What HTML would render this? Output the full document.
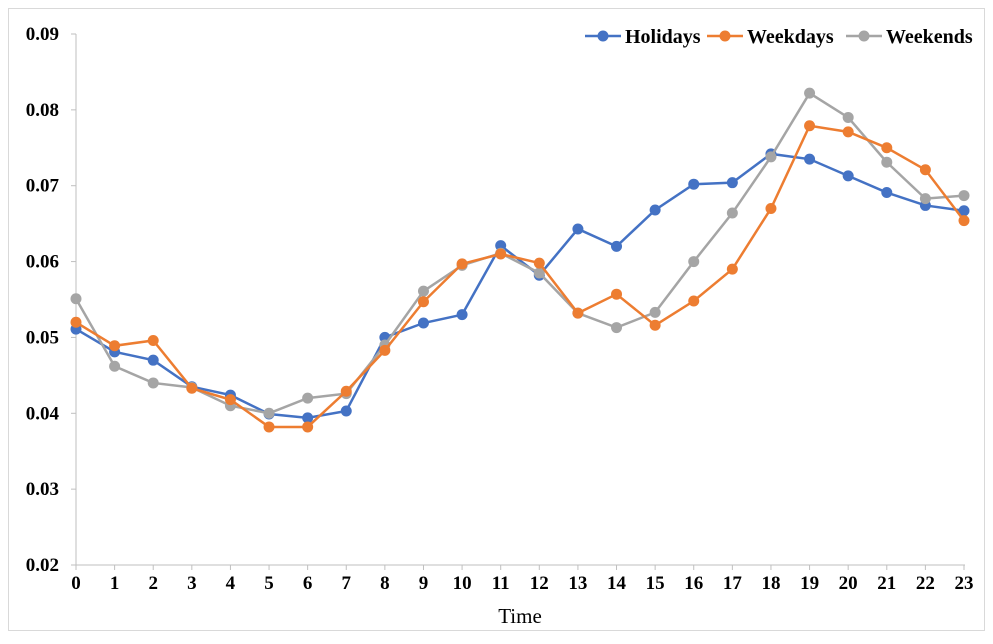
<!DOCTYPE html>
<html><head><meta charset="utf-8"><style>
body{margin:0;background:#fff;}
svg text{font-family:"Liberation Serif",serif;}
</style></head><body>
<svg id="chart" width="993" height="639" xmlns="http://www.w3.org/2000/svg">
<rect x="8.5" y="8.5" width="976" height="622" fill="#fff" stroke="#d9d9d9"/>
<g id="axes"></g>
<g id="series"></g>
<g id="legend"></g>
</svg>
<script>
const hours=[0,1,2,3,4,5,6,7,8,9,10,11,12,13,14,15,16,17,18,19,20,21,22,23];
const yTicks=[0.02,0.03,0.04,0.05,0.06,0.07,0.08,0.09];
const holidays=[0.0511,0.0481,0.0470,0.0435,0.0424,0.0399,0.0394,0.0403,0.0500,0.0519,0.0530,0.0621,0.0582,0.0643,0.0620,0.0668,0.0702,0.0704,0.0742,0.0735,0.0713,0.0691,0.0674,0.0667];
const weekdays=[0.0520,0.0489,0.0496,0.0433,0.0418,0.0382,0.0382,0.0429,0.0483,0.0547,0.0597,0.0610,0.0598,0.0532,0.0557,0.0516,0.0548,0.0590,0.0670,0.0779,0.0771,0.0750,0.0721,0.0654];
const weekends=[0.0551,0.0462,0.0440,0.0434,0.0410,0.0400,0.0420,0.0426,0.0490,0.0561,0.0595,0.0611,0.0585,0.0532,0.0513,0.0533,0.0600,0.0664,0.0738,0.0822,0.0790,0.0731,0.0683,0.0687];
const seriesNames=["Holidays","Weekdays","Weekends"];
const NS="http://www.w3.org/2000/svg";
const X0=76,X1=964,Y0=565,Y1=34;
const x=i=>X0+(X1-X0)*i/(hours.length-1);
const y=v=>Y0-(v-0.02)/(0.09-0.02)*(Y0-Y1);
function mk(tag,attrs,parent){const e=document.createElementNS(NS,tag);for(const k in attrs)e.setAttribute(k,attrs[k]);parent.appendChild(e);return e;}
const axes=document.getElementById('axes');
let a=mk('line',{x1:X0,y1:Y1,x2:X0,y2:Y0,stroke:'#bfbfbf','stroke-width':1},axes);


a=mk('line',{x1:X0,y1:Y0,x2:X1+1,y2:Y0,stroke:'#bfbfbf','stroke-width':1},axes);


yTicks.forEach(v=>{
 const t=mk('line',{x1:X0-5,y1:y(v),x2:X0,y2:y(v),stroke:'#bfbfbf'},axes);
 
 
 const l=mk('text',{x:59,y:y(v)+6,'text-anchor':'end','font-size':19,'font-weight':'bold',fill:'#000'},axes);
 l.textContent=v.toFixed(2);
 
 
});
hours.forEach((h,i)=>{
 const t=mk('line',{x1:x(i),y1:Y0,x2:x(i),y2:Y0+5,stroke:'#bfbfbf'},axes);
 
 
 const l=mk('text',{x:x(i),y:Y0+24,'text-anchor':'middle','font-size':19,'font-weight':'bold',fill:'#000'},axes);
 l.textContent=h;
 
 
});
const xt=mk('text',{x:(X0+X1)/2,y:623,'text-anchor':'middle','font-size':21,fill:'#000'},axes);
xt.textContent='Time';


const data=[holidays,weekdays,weekends];
const colors=['#4472c4','#ed7d31','#a5a5a5'];
const sg=document.getElementById('series');
[0,2,1].forEach(k=>{
 const g=mk('g',{},sg);
 
 
 const pl=mk('polyline',{points:data[k].map((v,i)=>x(i)+','+y(v)).join(' '),fill:'none',stroke:colors[k],'stroke-width':2.5},g);
 
 
 data[k].forEach((v,i)=>{
  const c=mk('circle',{cx:x(i),cy:y(v),r:5.5,fill:colors[k]},g);
  
  
 });
});
const lg=document.getElementById('legend');
const lx=[585,707,846];
seriesNames.forEach((n,k)=>{
 const g=mk('g',{},lg);
 
 
 mk('line',{x1:lx[k],y1:36,x2:lx[k]+36,y2:36,stroke:colors[k],'stroke-width':2.5},g);
 mk('circle',{cx:lx[k]+18,cy:36,r:5.5,fill:colors[k]},g);
 const t=mk('text',{x:lx[k]+40,y:43,'font-size':20,'font-weight':'bold',fill:'#000'},g);
 t.textContent=n;
});
</script>
</body></html>
